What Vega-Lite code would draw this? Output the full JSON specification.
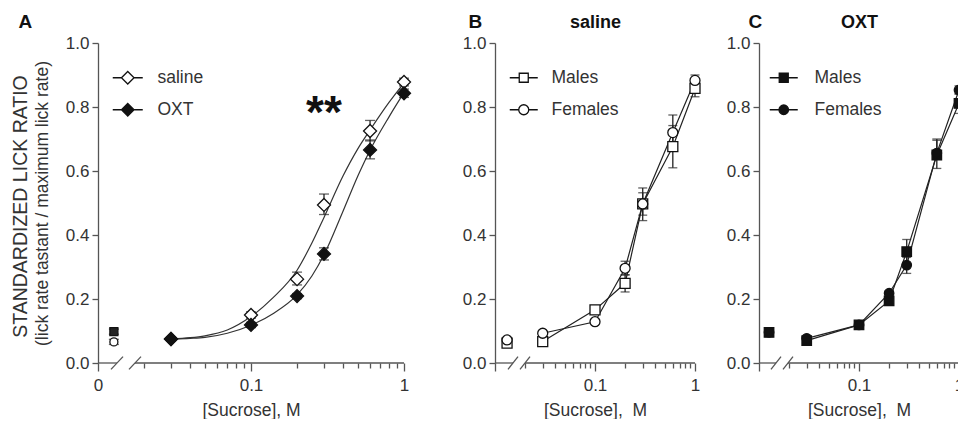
{
 "$schema": "https://vega.github.io/schema/vega-lite/v6.json",
 "padding": {"left": 10, "top": 12, "right": 0, "bottom": 0},
 "background": "white",
 "config": {
  "font": "Liberation Sans",
  "view": {"stroke": null},
  "axis": {"labelFont": "Liberation Sans", "labelFontSize": 17, "labelColor": "#333", "titleFont": "Liberation Sans", "titleFontSize": 17.5, "titleFontWeight": "normal", "titleColor": "#333", "domainColor": "#555", "domainWidth": 1.3, "tickColor": "#555", "tickWidth": 1.3, "grid": false},
  "legend": {"labelFont": "Liberation Sans", "labelFontSize": 17.5, "labelColor": "#333", "padding": 0, "rowPadding": 13, "titlePadding": 0}
 },
 "datasets": {
  "ptsA": [
   {"group": "saline", "conc": 0.0127, "ratio": 0.066, "lo": 0.058, "hi": 0.074, "ctrl": true},
   {"group": "saline", "conc": 0.03, "ratio": 0.075, "lo": 0.068, "hi": 0.082, "ctrl": false},
   {"group": "saline", "conc": 0.1, "ratio": 0.150, "lo": 0.140, "hi": 0.160, "ctrl": false},
   {"group": "saline", "conc": 0.2, "ratio": 0.262, "lo": 0.244, "hi": 0.284, "ctrl": false},
   {"group": "saline", "conc": 0.3, "ratio": 0.494, "lo": 0.464, "hi": 0.528, "ctrl": false},
   {"group": "saline", "conc": 0.6, "ratio": 0.725, "lo": 0.694, "hi": 0.758, "ctrl": false},
   {"group": "saline", "conc": 1, "ratio": 0.878, "lo": 0.866, "hi": 0.890, "ctrl": false},
   {"group": "OXT", "conc": 0.0127, "ratio": 0.098, "lo": 0.090, "hi": 0.106, "ctrl": true},
   {"group": "OXT", "conc": 0.03, "ratio": 0.075, "lo": 0.069, "hi": 0.081, "ctrl": false},
   {"group": "OXT", "conc": 0.1, "ratio": 0.119, "lo": 0.111, "hi": 0.127, "ctrl": false},
   {"group": "OXT", "conc": 0.2, "ratio": 0.209, "lo": 0.201, "hi": 0.217, "ctrl": false},
   {"group": "OXT", "conc": 0.3, "ratio": 0.341, "lo": 0.322, "hi": 0.360, "ctrl": false},
   {"group": "OXT", "conc": 0.6, "ratio": 0.666, "lo": 0.638, "hi": 0.697, "ctrl": false},
   {"group": "OXT", "conc": 1, "ratio": 0.843, "lo": 0.830, "hi": 0.856, "ctrl": false}
  ],
  "curveA": [
   {"group": "saline", "conc": 0.03, "ratio": 0.075},
   {"group": "saline", "conc": 0.04, "ratio": 0.079},
   {"group": "saline", "conc": 0.05, "ratio": 0.085},
   {"group": "saline", "conc": 0.07, "ratio": 0.103},
   {"group": "saline", "conc": 0.1, "ratio": 0.145},
   {"group": "saline", "conc": 0.14, "ratio": 0.205},
   {"group": "saline", "conc": 0.2, "ratio": 0.290},
   {"group": "saline", "conc": 0.25, "ratio": 0.375},
   {"group": "saline", "conc": 0.3, "ratio": 0.455},
   {"group": "saline", "conc": 0.4, "ratio": 0.585},
   {"group": "saline", "conc": 0.5, "ratio": 0.670},
   {"group": "saline", "conc": 0.6, "ratio": 0.728},
   {"group": "saline", "conc": 0.8, "ratio": 0.815},
   {"group": "saline", "conc": 1, "ratio": 0.875},
   {"group": "OXT", "conc": 0.03, "ratio": 0.075},
   {"group": "OXT", "conc": 0.04, "ratio": 0.077},
   {"group": "OXT", "conc": 0.05, "ratio": 0.080},
   {"group": "OXT", "conc": 0.07, "ratio": 0.093},
   {"group": "OXT", "conc": 0.1, "ratio": 0.118},
   {"group": "OXT", "conc": 0.14, "ratio": 0.155},
   {"group": "OXT", "conc": 0.2, "ratio": 0.213},
   {"group": "OXT", "conc": 0.25, "ratio": 0.272},
   {"group": "OXT", "conc": 0.3, "ratio": 0.338},
   {"group": "OXT", "conc": 0.4, "ratio": 0.475},
   {"group": "OXT", "conc": 0.5, "ratio": 0.585},
   {"group": "OXT", "conc": 0.6, "ratio": 0.665},
   {"group": "OXT", "conc": 0.8, "ratio": 0.770},
   {"group": "OXT", "conc": 1, "ratio": 0.845}
  ],
  "annotA": [{"conc": 0.3, "ratio": 0.735, "label": "**"}],
  "ptsB": [
   {"sex": "Males", "conc": 0.0132, "ratio": 0.062, "lo": 0.055, "hi": 0.069, "ctrl": true},
   {"sex": "Males", "conc": 0.03, "ratio": 0.067, "lo": 0.060, "hi": 0.074, "ctrl": false},
   {"sex": "Males", "conc": 0.1, "ratio": 0.166, "lo": 0.155, "hi": 0.177, "ctrl": false},
   {"sex": "Males", "conc": 0.2, "ratio": 0.249, "lo": 0.222, "hi": 0.276, "ctrl": false},
   {"sex": "Males", "conc": 0.3, "ratio": 0.497, "lo": 0.445, "hi": 0.547, "ctrl": false},
   {"sex": "Males", "conc": 0.6, "ratio": 0.676, "lo": 0.610, "hi": 0.742, "ctrl": false},
   {"sex": "Males", "conc": 1, "ratio": 0.858, "lo": 0.832, "hi": 0.884, "ctrl": false},
   {"sex": "Females", "conc": 0.0132, "ratio": 0.072, "lo": 0.066, "hi": 0.078, "ctrl": true},
   {"sex": "Females", "conc": 0.03, "ratio": 0.093, "lo": 0.087, "hi": 0.099, "ctrl": false},
   {"sex": "Females", "conc": 0.1, "ratio": 0.129, "lo": 0.122, "hi": 0.136, "ctrl": false},
   {"sex": "Females", "conc": 0.2, "ratio": 0.296, "lo": 0.275, "hi": 0.318, "ctrl": false},
   {"sex": "Females", "conc": 0.3, "ratio": 0.497, "lo": 0.462, "hi": 0.532, "ctrl": false},
   {"sex": "Females", "conc": 0.6, "ratio": 0.720, "lo": 0.670, "hi": 0.775, "ctrl": false},
   {"sex": "Females", "conc": 1, "ratio": 0.883, "lo": 0.866, "hi": 0.900, "ctrl": false}
  ],
  "ptsC": [
   {"sex": "Males", "conc": 0.0126, "ratio": 0.096, "lo": 0.082, "hi": 0.110, "ctrl": true},
   {"sex": "Males", "conc": 0.03, "ratio": 0.070, "lo": 0.064, "hi": 0.076, "ctrl": false},
   {"sex": "Males", "conc": 0.1, "ratio": 0.119, "lo": 0.112, "hi": 0.126, "ctrl": false},
   {"sex": "Males", "conc": 0.2, "ratio": 0.194, "lo": 0.186, "hi": 0.202, "ctrl": false},
   {"sex": "Males", "conc": 0.3, "ratio": 0.348, "lo": 0.310, "hi": 0.386, "ctrl": false},
   {"sex": "Males", "conc": 0.6, "ratio": 0.650, "lo": 0.608, "hi": 0.696, "ctrl": false},
   {"sex": "Males", "conc": 1, "ratio": 0.811, "lo": 0.780, "hi": 0.842, "ctrl": false},
   {"sex": "Females", "conc": 0.0126, "ratio": 0.096, "lo": 0.086, "hi": 0.106, "ctrl": true},
   {"sex": "Females", "conc": 0.03, "ratio": 0.077, "lo": 0.071, "hi": 0.083, "ctrl": false},
   {"sex": "Females", "conc": 0.1, "ratio": 0.119, "lo": 0.113, "hi": 0.125, "ctrl": false},
   {"sex": "Females", "conc": 0.2, "ratio": 0.218, "lo": 0.210, "hi": 0.226, "ctrl": false},
   {"sex": "Females", "conc": 0.3, "ratio": 0.306, "lo": 0.280, "hi": 0.330, "ctrl": false},
   {"sex": "Females", "conc": 0.6, "ratio": 0.656, "lo": 0.640, "hi": 0.700, "ctrl": false},
   {"sex": "Females", "conc": 1, "ratio": 0.853, "lo": 0.840, "hi": 0.866, "ctrl": false}
  ]
 },
 "spacing": 0,
 "bounds": "flush",
 "resolve": {"scale": {"x": "independent", "y": "independent", "fill": "independent", "shape": "independent"}, "legend": {"fill": "independent", "shape": "independent"}, "axis": {"x": "independent", "y": "independent"}},
 "hconcat": [
  {
   "width": 397, "height": 320,
   "resolve": {"axis": {"x": "independent", "y": "independent"}},
   "layer": [
    {"data": {"values": [{}]}, "mark": {"type": "rule", "color": "#555", "strokeWidth": 1.3},
     "encoding": {"x": {"datum": 0.01, "type": "quantitative", "scale": {"type": "log", "domain": [0.01, 1], "range": [0, 306], "nice": false}, "axis": null}, "x2": {"datum": 0.0133},
      "y": {"datum": 0, "type": "quantitative", "scale": {"domain": [0, 1], "nice": false, "zero": false}, "axis": null}}},
    {"data": {"values": [{}]}, "mark": {"type": "rule", "color": "#555", "strokeWidth": 1.3},
     "encoding": {"x": {"datum": 0.01745, "type": "quantitative", "scale": {"type": "log", "domain": [0.01, 1], "range": [0, 306], "nice": false}, "axis": null}, "x2": {"datum": 1},
      "y": {"datum": 0, "type": "quantitative", "scale": {"domain": [0, 1], "nice": false, "zero": false}, "axis": null}}},
    {"data": {"values": [{}]}, "mark": {"type": "rule", "color": "#555", "strokeWidth": 1.3},
     "encoding": {"x": {"datum": 0.01216, "type": "quantitative", "scale": {"type": "log", "domain": [0.01, 1], "range": [0, 306], "nice": false}, "axis": null}, "x2": {"datum": 0.01457},
      "y": {"datum": -0.02, "type": "quantitative", "scale": {"domain": [0, 1], "nice": false, "zero": false}, "axis": null}, "y2": {"datum": 0.02}}},
    {"data": {"values": [{}]}, "mark": {"type": "rule", "color": "#555", "strokeWidth": 1.3},
     "encoding": {"x": {"datum": 0.01594, "type": "quantitative", "scale": {"type": "log", "domain": [0.01, 1], "range": [0, 306], "nice": false}, "axis": null}, "x2": {"datum": 0.0191},
      "y": {"datum": -0.02, "type": "quantitative", "scale": {"domain": [0, 1], "nice": false, "zero": false}, "axis": null}, "y2": {"datum": 0.02}}},
    {"data": {"name": "curveA"}, "mark": {"type": "line", "color": "#333", "strokeWidth": 1.2, "interpolate": "monotone"},
     "encoding": {
      "x": {"field": "conc", "type": "quantitative", "scale": {"type": "log", "domain": [0.01, 1], "range": [0, 306], "nice": false},
       "axis": {"orient": "bottom", "domain": false, "grid": false, "values": [0.01, 0.02, 0.03, 0.04, 0.05, 0.06, 0.07, 0.08, 0.09, 0.1, 0.2, 0.3, 0.4, 0.5, 0.6, 0.7, 0.8, 0.9, 1],
        "labelExpr": "datum.value == 0.01 ? '0' : datum.value == 0.1 ? '0.1' : datum.value == 1 ? '1' : ''", "labelOverlap": false, "labelFlush": false,
        "tickSize": {"condition": {"test": "datum.value == 0.01 || datum.value == 0.1 || datum.value == 1", "value": 8}, "value": 5},
        "labelPadding": 6, "title": "[Sucrose], M", "titlePadding": 8}},
      "y": {"field": "ratio", "type": "quantitative", "scale": {"domain": [0, 1], "nice": false, "zero": false},
       "axis": {"orient": "left", "values": [0, 0.2, 0.4, 0.6, 0.8, 1], "format": ".1f", "tickSize": 6, "labelPadding": 3, "grid": false,
        "title": "STANDARDIZED LICK RATIO", "titleFontSize": 19.5, "titleAngle": 270, "titleX": -72, "titleY": 163, "titleAlign": "center", "titleBaseline": "alphabetic"}},
      "detail": {"field": "group"}}},
    {"data": {"name": "ptsA"}, "mark": {"type": "rule", "color": "#222", "strokeWidth": 1.3},
     "encoding": {"x": {"field": "conc", "type": "quantitative", "scale": {"type": "log", "domain": [0.01, 1], "range": [0, 306], "nice": false}, "axis": null},
      "y": {"field": "lo", "type": "quantitative", "scale": {"domain": [0, 1], "nice": false, "zero": false}, "axis": null}, "y2": {"field": "hi"}}},
    {"data": {"name": "ptsA"}, "mark": {"type": "tick", "orient": "horizontal", "size": 10, "thickness": 1.3, "color": "#222"},
     "encoding": {"x": {"field": "conc", "type": "quantitative", "scale": {"type": "log", "domain": [0.01, 1], "range": [0, 306], "nice": false}, "axis": null},
      "y": {"field": "lo", "type": "quantitative", "scale": {"domain": [0, 1], "nice": false, "zero": false}, "axis": null}}},
    {"data": {"name": "ptsA"}, "mark": {"type": "tick", "orient": "horizontal", "size": 10, "thickness": 1.3, "color": "#222"},
     "encoding": {"x": {"field": "conc", "type": "quantitative", "scale": {"type": "log", "domain": [0.01, 1], "range": [0, 306], "nice": false}, "axis": null},
      "y": {"field": "hi", "type": "quantitative", "scale": {"domain": [0, 1], "nice": false, "zero": false}, "axis": null}}},
    {"data": {"name": "ptsA"}, "transform": [{"filter": "!datum.ctrl"}],
     "mark": {"type": "point", "shape": "diamond", "size": 169, "filled": true, "stroke": "#111", "strokeWidth": 1.3, "opacity": 1},
     "encoding": {
      "x": {"field": "conc", "type": "quantitative", "scale": {"type": "log", "domain": [0.01, 1], "range": [0, 306], "nice": false},
       "axis": {"orient": "top", "domain": false, "ticks": false, "labels": false, "grid": false, "title": "A", "titleX": -80, "titleY": -16, "titleAlign": "left", "titleBaseline": "alphabetic", "titleFontSize": 19, "titleFontWeight": "bold", "titleColor": "#111"}},
      "y": {"field": "ratio", "type": "quantitative", "scale": {"domain": [0, 1], "nice": false, "zero": false}, "axis": null},
      "fill": {"field": "group", "type": "nominal", "scale": {"domain": ["saline", "OXT"], "range": ["white", "#111"]},
       "legend": {"title": null, "orient": "none", "legendX": 21, "legendY": 26, "symbolType": "M-2.5,0H-1.05M1.05,0H2.5M0,-1.05L1.05,0L0,1.05L-1.05,0Z", "symbolSize": 144, "symbolStrokeColor": "#111", "symbolStrokeWidth": 1.3, "labelOffset": 21, "rowPadding": 13, "padding": 0}}}},
    {"data": {"name": "ptsA"}, "transform": [{"filter": "datum.ctrl && datum.group === 'saline'"}],
     "mark": {"type": "point", "shape": "circle", "size": 64, "filled": true, "fill": "white", "stroke": "#111", "strokeWidth": 1.3, "opacity": 1},
     "encoding": {"x": {"field": "conc", "type": "quantitative", "scale": {"type": "log", "domain": [0.01, 1], "range": [0, 306], "nice": false}, "axis": null},
      "y": {"field": "ratio", "type": "quantitative", "scale": {"domain": [0, 1], "nice": false, "zero": false}, "axis": null}}},
    {"data": {"name": "ptsA"}, "transform": [{"filter": "datum.ctrl && datum.group === 'OXT'"}],
     "mark": {"type": "point", "shape": "square", "size": 64, "filled": true, "fill": "#222", "stroke": "#111", "strokeWidth": 1.3, "opacity": 1},
     "encoding": {"x": {"field": "conc", "type": "quantitative", "scale": {"type": "log", "domain": [0.01, 1], "range": [0, 306], "nice": false}, "axis": null},
      "y": {"field": "ratio", "type": "quantitative", "scale": {"domain": [0, 1], "nice": false, "zero": false}, "axis": null}}},
    {"data": {"name": "annotA"}, "mark": {"type": "text", "fontSize": 46, "fontWeight": "bold", "color": "#111", "align": "center", "baseline": "alphabetic"},
     "encoding": {"x": {"field": "conc", "type": "quantitative", "scale": {"type": "log", "domain": [0.01, 1], "range": [0, 306], "nice": false}, "axis": null},
      "y": {"field": "ratio", "type": "quantitative", "scale": {"domain": [0, 1], "nice": false, "zero": false},
       "axis": {"orient": "left", "domain": false, "ticks": false, "labels": false, "grid": false, "title": "(lick rate tastant / maximum lick rate)", "titleFontSize": 17.5, "titleAngle": 270, "titleX": -50.5, "titleY": 160, "titleAlign": "center", "titleBaseline": "alphabetic"}},
      "text": {"field": "label"}}}
   ]
  },
  {
   "width": 264, "height": 320,
   "resolve": {"scale": {"shape": "independent"}, "axis": {"x": "independent", "y": "independent"}},
   "layer": [
    {"data": {"values": [{}]}, "mark": {"type": "rule", "color": "#555", "strokeWidth": 1.3},
     "encoding": {"x": {"datum": 0.01, "type": "quantitative", "scale": {"type": "log", "domain": [0.01, 1], "range": [0, 200], "nice": false}, "axis": null}, "x2": {"datum": 0.01514},
      "y": {"datum": 0, "type": "quantitative", "scale": {"domain": [0, 1], "nice": false, "zero": false}, "axis": null}}},
    {"data": {"values": [{}]}, "mark": {"type": "rule", "color": "#555", "strokeWidth": 1.3},
     "encoding": {"x": {"datum": 0.01995, "type": "quantitative", "scale": {"type": "log", "domain": [0.01, 1], "range": [0, 200], "nice": false}, "axis": null}, "x2": {"datum": 1},
      "y": {"datum": 0, "type": "quantitative", "scale": {"domain": [0, 1], "nice": false, "zero": false}, "axis": null}}},
    {"data": {"values": [{}]}, "mark": {"type": "rule", "color": "#555", "strokeWidth": 1.3},
     "encoding": {"x": {"datum": 0.01349, "type": "quantitative", "scale": {"type": "log", "domain": [0.01, 1], "range": [0, 200], "nice": false}, "axis": null}, "x2": {"datum": 0.01698},
      "y": {"datum": -0.02, "type": "quantitative", "scale": {"domain": [0, 1], "nice": false, "zero": false}, "axis": null}, "y2": {"datum": 0.02}}},
    {"data": {"values": [{}]}, "mark": {"type": "rule", "color": "#555", "strokeWidth": 1.3},
     "encoding": {"x": {"datum": 0.01778, "type": "quantitative", "scale": {"type": "log", "domain": [0.01, 1], "range": [0, 200], "nice": false}, "axis": null}, "x2": {"datum": 0.02239},
      "y": {"datum": -0.02, "type": "quantitative", "scale": {"domain": [0, 1], "nice": false, "zero": false}, "axis": null}, "y2": {"datum": 0.02}}},
    {"data": {"name": "ptsB"}, "transform": [{"filter": "!datum.ctrl"}], "mark": {"type": "line", "color": "#222", "strokeWidth": 1.2},
     "encoding": {
      "x": {"field": "conc", "type": "quantitative", "scale": {"type": "log", "domain": [0.01, 1], "range": [0, 200], "nice": false},
       "axis": {"orient": "bottom", "domain": false, "grid": false, "values": [0.01, 0.02, 0.03, 0.04, 0.05, 0.06, 0.07, 0.08, 0.09, 0.1, 0.2, 0.3, 0.4, 0.5, 0.6, 0.7, 0.8, 0.9, 1],
        "labelExpr": "datum.value == 0.1 ? '0.1' : datum.value == 1 ? '1' : ''", "labelOverlap": false, "labelFlush": false,
        "tickSize": {"condition": {"test": "datum.value == 0.01 || datum.value == 0.1 || datum.value == 1", "value": 8}, "value": 5},
        "labelPadding": 6, "title": "[Sucrose],\u00a0 M", "titlePadding": 8}},
      "y": {"field": "ratio", "type": "quantitative", "scale": {"domain": [0, 1], "nice": false, "zero": false},
       "axis": {"orient": "left", "values": [0, 0.2, 0.4, 0.6, 0.8, 1], "format": ".1f", "tickSize": 6, "labelPadding": 3, "grid": false,
        "title": "B", "titleAngle": 0, "titleX": -27, "titleY": -16, "titleAlign": "left", "titleBaseline": "alphabetic", "titleFontSize": 19, "titleFontWeight": "bold", "titleColor": "#111"}},
      "detail": {"field": "sex"}}},
    {"data": {"name": "ptsB"}, "mark": {"type": "rule", "color": "#222", "strokeWidth": 1.3},
     "encoding": {"x": {"field": "conc", "type": "quantitative", "scale": {"type": "log", "domain": [0.01, 1], "range": [0, 200], "nice": false}, "axis": null},
      "y": {"field": "lo", "type": "quantitative", "scale": {"domain": [0, 1], "nice": false, "zero": false}, "axis": null}, "y2": {"field": "hi"}}},
    {"data": {"name": "ptsB"}, "mark": {"type": "tick", "orient": "horizontal", "size": 9, "thickness": 1.3, "color": "#222"},
     "encoding": {"x": {"field": "conc", "type": "quantitative", "scale": {"type": "log", "domain": [0.01, 1], "range": [0, 200], "nice": false}, "axis": null},
      "y": {"field": "lo", "type": "quantitative", "scale": {"domain": [0, 1], "nice": false, "zero": false}, "axis": null}}},
    {"data": {"name": "ptsB"}, "mark": {"type": "tick", "orient": "horizontal", "size": 9, "thickness": 1.3, "color": "#222"},
     "encoding": {"x": {"field": "conc", "type": "quantitative", "scale": {"type": "log", "domain": [0.01, 1], "range": [0, 200], "nice": false}, "axis": null},
      "y": {"field": "hi", "type": "quantitative", "scale": {"domain": [0, 1], "nice": false, "zero": false}, "axis": null}}},
    {"data": {"name": "ptsB"},
     "mark": {"type": "point", "filled": true, "fill": "white", "stroke": "#111", "strokeWidth": 1.3, "size": 100, "opacity": 1},
     "encoding": {
      "x": {"field": "conc", "type": "quantitative", "scale": {"type": "log", "domain": [0.01, 1], "range": [0, 200], "nice": false},
       "axis": {"orient": "top", "domain": false, "ticks": false, "labels": false, "grid": false, "title": "saline", "titleX": 100, "titleY": -16, "titleAlign": "center", "titleBaseline": "alphabetic", "titleFontSize": 18, "titleFontWeight": "bold", "titleColor": "#111"}},
      "y": {"field": "ratio", "type": "quantitative", "scale": {"domain": [0, 1], "nice": false, "zero": false}, "axis": null},
      "shape": {"field": "sex", "type": "nominal", "scale": {"domain": ["Males", "Females"], "range": ["square", "circle"]}, "legend": null}}},
    {"data": {"name": "ptsB"}, "transform": [{"filter": "datum.ctrl"}],
     "mark": {"type": "point", "filled": true, "fill": "white", "stroke": "#111", "strokeWidth": 1.3, "size": 100, "opacity": 0},
     "encoding": {
      "x": {"field": "conc", "type": "quantitative", "scale": {"type": "log", "domain": [0.01, 1], "range": [0, 200], "nice": false}, "axis": null},
      "y": {"field": "ratio", "type": "quantitative", "scale": {"domain": [0, 1], "nice": false, "zero": false}, "axis": null},
      "shape": {"field": "sex", "type": "nominal", "scale": {"domain": ["Males", "Females"], "range": ["M-2.8,0H-0.9M0.9,0H2.8M-0.9,-0.9H0.9V0.9H-0.9Z", "M-2.8,0H-1M1,0H2.8M1,0A1,1,0,1,1,-1,0A1,1,0,1,1,1,0Z"]},
       "legend": {"title": null, "orient": "none", "legendX": 20, "legendY": 26, "symbolSize": 100, "symbolOpacity": 1, "symbolFillColor": "white", "symbolStrokeColor": "#111", "symbolStrokeWidth": 1.3, "labelOffset": 19, "rowPadding": 13, "padding": 0,
        "encoding": {"symbols": {"fill": {"value": "white"}, "stroke": {"value": "#111"}, "strokeWidth": {"value": 1.3}, "opacity": {"value": 1}}}}}}}
   ]
  },
  {
   "width": 200, "height": 320,
   "resolve": {"scale": {"shape": "independent"}, "axis": {"x": "independent", "y": "independent"}},
   "layer": [
    {"data": {"values": [{}]}, "mark": {"type": "rule", "color": "#555", "strokeWidth": 1.3},
     "encoding": {"x": {"datum": 0.01, "type": "quantitative", "scale": {"type": "log", "domain": [0.01, 1], "range": [0, 200], "nice": false}, "axis": null}, "x2": {"datum": 0.01479},
      "y": {"datum": 0, "type": "quantitative", "scale": {"domain": [0, 1], "nice": false, "zero": false}, "axis": null}}},
    {"data": {"values": [{}]}, "mark": {"type": "rule", "color": "#555", "strokeWidth": 1.3},
     "encoding": {"x": {"datum": 0.0195, "type": "quantitative", "scale": {"type": "log", "domain": [0.01, 1], "range": [0, 200], "nice": false}, "axis": null}, "x2": {"datum": 1},
      "y": {"datum": 0, "type": "quantitative", "scale": {"domain": [0, 1], "nice": false, "zero": false}, "axis": null}}},
    {"data": {"values": [{}]}, "mark": {"type": "rule", "color": "#555", "strokeWidth": 1.3},
     "encoding": {"x": {"datum": 0.01318, "type": "quantitative", "scale": {"type": "log", "domain": [0.01, 1], "range": [0, 200], "nice": false}, "axis": null}, "x2": {"datum": 0.0166},
      "y": {"datum": -0.02, "type": "quantitative", "scale": {"domain": [0, 1], "nice": false, "zero": false}, "axis": null}, "y2": {"datum": 0.02}}},
    {"data": {"values": [{}]}, "mark": {"type": "rule", "color": "#555", "strokeWidth": 1.3},
     "encoding": {"x": {"datum": 0.01738, "type": "quantitative", "scale": {"type": "log", "domain": [0.01, 1], "range": [0, 200], "nice": false}, "axis": null}, "x2": {"datum": 0.02188},
      "y": {"datum": -0.02, "type": "quantitative", "scale": {"domain": [0, 1], "nice": false, "zero": false}, "axis": null}, "y2": {"datum": 0.02}}},
    {"data": {"name": "ptsC"}, "transform": [{"filter": "!datum.ctrl"}], "mark": {"type": "line", "color": "#222", "strokeWidth": 1.2},
     "encoding": {
      "x": {"field": "conc", "type": "quantitative", "scale": {"type": "log", "domain": [0.01, 1], "range": [0, 200], "nice": false},
       "axis": {"orient": "bottom", "domain": false, "grid": false, "values": [0.01, 0.02, 0.03, 0.04, 0.05, 0.06, 0.07, 0.08, 0.09, 0.1, 0.2, 0.3, 0.4, 0.5, 0.6, 0.7, 0.8, 0.9, 1],
        "labelExpr": "datum.value == 0.1 ? '0.1' : datum.value == 1 ? '1' : ''", "labelOverlap": false, "labelFlush": false,
        "tickSize": {"condition": {"test": "datum.value == 0.01 || datum.value == 0.1 || datum.value == 1", "value": 8}, "value": 5},
        "labelPadding": 6, "title": "[Sucrose],\u00a0 M", "titlePadding": 8}},
      "y": {"field": "ratio", "type": "quantitative", "scale": {"domain": [0, 1], "nice": false, "zero": false},
       "axis": {"orient": "left", "values": [0, 0.2, 0.4, 0.6, 0.8, 1], "format": ".1f", "tickSize": 6, "labelPadding": 3, "grid": false,
        "title": "C", "titleAngle": 0, "titleX": -11, "titleY": -16, "titleAlign": "left", "titleBaseline": "alphabetic", "titleFontSize": 19, "titleFontWeight": "bold", "titleColor": "#111"}},
      "detail": {"field": "sex"}}},
    {"data": {"name": "ptsC"}, "mark": {"type": "rule", "color": "#222", "strokeWidth": 1.3},
     "encoding": {"x": {"field": "conc", "type": "quantitative", "scale": {"type": "log", "domain": [0.01, 1], "range": [0, 200], "nice": false}, "axis": null},
      "y": {"field": "lo", "type": "quantitative", "scale": {"domain": [0, 1], "nice": false, "zero": false}, "axis": null}, "y2": {"field": "hi"}}},
    {"data": {"name": "ptsC"}, "mark": {"type": "tick", "orient": "horizontal", "size": 9, "thickness": 1.3, "color": "#222"},
     "encoding": {"x": {"field": "conc", "type": "quantitative", "scale": {"type": "log", "domain": [0.01, 1], "range": [0, 200], "nice": false}, "axis": null},
      "y": {"field": "lo", "type": "quantitative", "scale": {"domain": [0, 1], "nice": false, "zero": false}, "axis": null}}},
    {"data": {"name": "ptsC"}, "mark": {"type": "tick", "orient": "horizontal", "size": 9, "thickness": 1.3, "color": "#222"},
     "encoding": {"x": {"field": "conc", "type": "quantitative", "scale": {"type": "log", "domain": [0.01, 1], "range": [0, 200], "nice": false}, "axis": null},
      "y": {"field": "hi", "type": "quantitative", "scale": {"domain": [0, 1], "nice": false, "zero": false}, "axis": null}}},
    {"data": {"name": "ptsC"},
     "mark": {"type": "point", "filled": true, "fill": "#111", "stroke": "#111", "strokeWidth": 1.3, "size": 90, "opacity": 1},
     "encoding": {
      "x": {"field": "conc", "type": "quantitative", "scale": {"type": "log", "domain": [0.01, 1], "range": [0, 200], "nice": false},
       "axis": {"orient": "top", "domain": false, "ticks": false, "labels": false, "grid": false, "title": "OXT", "titleX": 100, "titleY": -16, "titleAlign": "center", "titleBaseline": "alphabetic", "titleFontSize": 18, "titleFontWeight": "bold", "titleColor": "#111"}},
      "y": {"field": "ratio", "type": "quantitative", "scale": {"domain": [0, 1], "nice": false, "zero": false}, "axis": null},
      "shape": {"field": "sex", "type": "nominal", "scale": {"domain": ["Males", "Females"], "range": ["square", "circle"]}, "legend": null}}},
    {"data": {"name": "ptsC"}, "transform": [{"filter": "datum.ctrl"}],
     "mark": {"type": "point", "filled": true, "fill": "#111", "stroke": "#111", "strokeWidth": 1.3, "size": 100, "opacity": 0},
     "encoding": {
      "x": {"field": "conc", "type": "quantitative", "scale": {"type": "log", "domain": [0.01, 1], "range": [0, 200], "nice": false}, "axis": null},
      "y": {"field": "ratio", "type": "quantitative", "scale": {"domain": [0, 1], "nice": false, "zero": false}, "axis": null},
      "shape": {"field": "sex", "type": "nominal", "scale": {"domain": ["Males", "Females"], "range": ["M-2.8,0H-0.9M0.9,0H2.8M-0.9,-0.9H0.9V0.9H-0.9Z", "M-2.8,0H-0.95M0.95,0H2.8M0.95,0A0.95,0.95,0,1,1,-0.95,0A0.95,0.95,0,1,1,0.95,0Z"]},
       "legend": {"title": null, "orient": "none", "legendX": 16, "legendY": 26, "symbolSize": 100, "symbolOpacity": 1, "symbolFillColor": "#111", "symbolStrokeColor": "#111", "symbolStrokeWidth": 1.3, "labelOffset": 22, "rowPadding": 13, "padding": 0,
        "encoding": {"symbols": {"fill": {"value": "#111"}, "stroke": {"value": "#111"}, "strokeWidth": {"value": 1.3}, "opacity": {"value": 1}}}}}}}
   ]
  }
 ]
}
